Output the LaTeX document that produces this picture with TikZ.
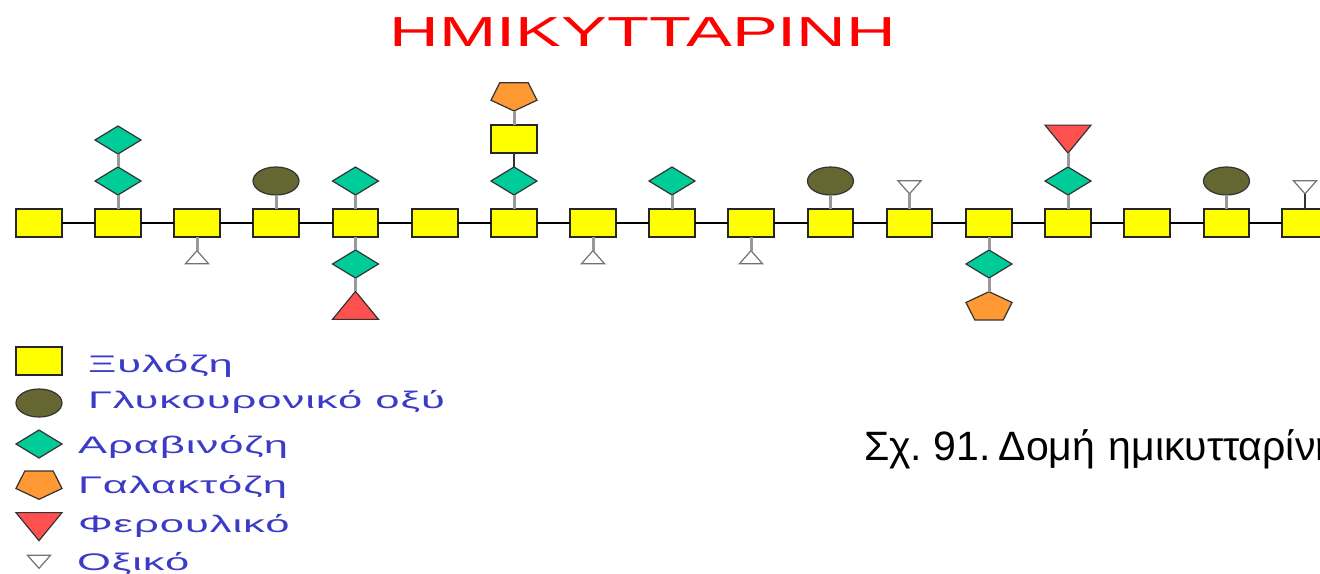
\documentclass[tikz,border=0pt]{standalone}
\usepackage{fontspec}
\setmainfont{Liberation Sans}
\newfontfamily\legfont[FakeStretch=1.815,LetterSpace=4]{Liberation Sans}
\newfontfamily\titlefont[FakeStretch=1.635]{Liberation Sans}
\usetikzlibrary{shapes.geometric}
\definecolor{xyl}{HTML}{FFFF00}
\definecolor{glu}{HTML}{666633}
\definecolor{ara}{HTML}{00CC99}
\definecolor{gal}{HTML}{FF9933}
\definecolor{fer}{HTML}{FF5050}
\definecolor{legtext}{HTML}{3B3BC8}
\tikzset{
  every node/.style={inner sep=0pt,outer sep=0pt},
  sym/.style={draw=black!80,line width=1.2pt},
  xy/.style={draw=black!85,line width=1.6pt,rectangle,fill=xyl,minimum width=45.5pt,minimum height=27.5pt},
  gl/.style={sym,ellipse,fill=glu,minimum width=46pt,minimum height=28pt},
  ar/.style={sym,diamond,fill=ara,aspect=1.64,minimum width=46pt,minimum height=28pt},
  ga/.style={sym,regular polygon,regular polygon sides=5,fill=gal,minimum size=40pt,transform shape,xscale=1.21,yscale=0.78},
  gainv/.style={ga,shape border rotate=180},
  feup/.style={sym,isosceles triangle,isosceles triangle stretches,shape border rotate=90,fill=fer,minimum width=46pt,minimum height=28pt},
  fedn/.style={sym,isosceles triangle,isosceles triangle stretches,shape border rotate=-90,fill=fer,minimum width=46pt,minimum height=28pt},
  acup/.style={draw=black!55,line width=1.2pt,isosceles triangle,isosceles triangle stretches,shape border rotate=90,fill=white,minimum width=23pt,minimum height=13pt},
  acdn/.style={draw=black!55,line width=1.2pt,isosceles triangle,isosceles triangle stretches,shape border rotate=-90,fill=white,minimum width=23pt,minimum height=13pt},
  mainlink/.style={draw=black,line width=1.2pt},
  sidelink/.style={draw=black!40,line width=3pt},
  leg/.style={anchor=base west,text=legtext,font=\fontsize{24}{24}\legfont},
}
\begin{document}
\begin{tikzpicture}[x=1pt,y=-1pt]
\useasboundingbox (0,0) rectangle (1320,573);
\clip (0,0) rectangle (1320,573);
\node[anchor=base,text={rgb,255:red,255;green,0;blue,0},font=\fontsize{42}{42}\titlefont] (title) at (643,46) {ΗΜΙΚΥΤΤΑΡΙΝΗ};
% backbone
\foreach \n/\px in {1/39,2/118,3/197,4/276,5/355.5,6/435,7/514,8/593,9/672,10/751,11/830.5,12/909.5,13/989,14/1068,15/1147,16/1226.5,17/1305}
  \node[xy] (x\n) at (\px,223) {};
\foreach \a/\b in {1/2,2/3,3/4,4/5,5/6,6/7,7/8,8/9,9/10,10/11,11/12,12/13,13/14,14/15,15/16,16/17}
  \draw[mainlink] (x\a) -- (x\b);
% branches, above
\node[ar] (a2a) at (118,181) {};
\node[ar] (a2b) at (118,140) {};
\draw[sidelink] (x2) -- (a2a);
\draw[sidelink] (a2a) -- (a2b);
\node[gl] (g4) at (276,181) {};
\draw[sidelink] (x4) -- (g4);
\node[ar] (a5) at (355.5,181) {};
\draw[sidelink] (x5) -- (a5);
\node[ar] (a7) at (514,181) {};
\node[xy] (x7b) at (514,139) {};
\node[gainv] (p7) at (514,95.4) {};
\draw[sidelink] (x7) -- (a7);
\draw[black!80,line width=1.6pt] (a7) -- (x7b);
\draw[sidelink] (x7b) -- (p7);
\node[ar] (a9) at (672,181) {};
\draw[sidelink] (x9) -- (a9);
\node[gl] (g11) at (830.5,181) {};
\draw[sidelink] (x11) -- (g11);
\node[acdn] (t12) at (909.5,186) {};
\draw[sidelink] (x12) -- (t12);
\node[ar] (a14) at (1068,181) {};
\node[fedn] (f14) at (1068,136) {};
\draw[sidelink] (x14) -- (a14);
\draw[sidelink] (a14) -- (f14);
\node[gl] (g16) at (1226.5,181) {};
\draw[sidelink] (x16) -- (g16);
\node[acdn] (t17) at (1305,186) {};
\draw[black!80,line width=1.4pt] (x17) -- (t17);
% branches, below
\node[acup] (t3) at (197,258.5) {};
\draw[sidelink] (x3) -- (t3);
\node[ar] (a5d) at (355.5,264) {};
\node[feup] (f5) at (355.5,308.5) {};
\draw[sidelink] (x5) -- (a5d);
\draw[sidelink] (a5d) -- (f5);
\node[acup] (t8) at (593,258.5) {};
\draw[sidelink] (x8) -- (t8);
\node[acup] (t10) at (751,258.5) {};
\draw[sidelink] (x10) -- (t10);
\node[ar] (a13) at (989,264) {};
\node[ga] (p13) at (989,307.3) {};
\draw[sidelink] (x13) -- (a13);
\draw[sidelink] (a13) -- (p13);
% legend
\node[xy] (lx) at (39,361) {};
\node[gl] (lg) at (39,403) {};
\node[ar] (la) at (39,444) {};
\node[gainv] (lp) at (39,483.7) {};
\node[fedn] (lf) at (39,523.5) {};
\node[acdn] (lt) at (39,560.5) {};
\node[leg] (tx) at (88,372) {Ξυλόζη};
\node[leg] (tg) at (88,408) {Γλυκουρονικό οξύ};
\node[leg] (ta) at (78,453) {Αραβινόζη};
\node[leg] (tp) at (78,493) {Γαλακτόζη};
\node[leg] (tf) at (78,532) {Φερουλικό};
\node[leg] (tt) at (77,570) {Οξικό};
\node[anchor=base west,font=\fontsize{41}{41}\selectfont] (cap) at (864,460) {Σχ.\hspace{-4pt} 91.\hspace{-7pt} Δομή\hspace{2pt} ημικυτταρίνης};
\end{tikzpicture}
\end{document}
